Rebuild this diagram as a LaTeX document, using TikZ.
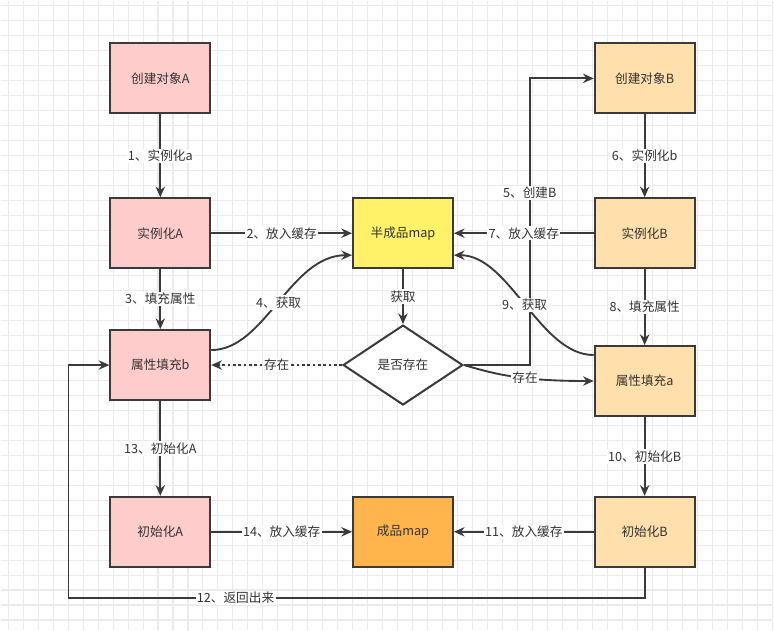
\documentclass[tikz,border=0pt]{standalone}
\usepackage{fontspec}
\setmainfont{Noto Sans CJK SC}
\usetikzlibrary{arrows.meta,shapes.geometric,calc}
\definecolor{gridc}{HTML}{EBEBEB}
\definecolor{linec}{HTML}{3A3A3A}
\definecolor{txtc}{HTML}{333333}
\definecolor{pinkf}{HTML}{FFCCCC}
\definecolor{peachf}{HTML}{FFDFAB}
\definecolor{yellowf}{HTML}{FFF168}
\definecolor{orangef}{HTML}{FFB54C}
\begin{document}
\begin{tikzpicture}[x=0.75pt,y=-0.75pt,
  font=\fontsize{9.5pt}{11pt}\selectfont, text=txtc,
  box/.style={draw=linec, line width=1.5pt, minimum width=75pt, minimum height=52.5pt, inner sep=0pt},
  boxa/.style={box, fill=pinkf},
  boxb/.style={box, fill=peachf},
  edge/.style={draw=linec, line width=1.4pt, -{Stealth[length=8pt,width=7pt]}},
  lbl/.style={fill=white, inner sep=1pt}]
\fill[white] (0,0) rectangle (774,630);
\foreach \i in {0,...,51} \draw[gridc, line width=0.8pt] (7.7+15*\i,0) -- (7.7+15*\i,630);
\foreach \j in {0,...,41} \draw[gridc, line width=0.8pt] (0,5.3+15*\j) -- (774,5.3+15*\j);
\useasboundingbox (0,0) rectangle (774,630);

% left column
\node[boxa] (cA) at (160,78) {创建对象A};
\node[boxa] (iA) at (160,233) {实例化A};
\node[boxa] (pb) at (160,365) {属性填充b};
\node[boxa] (niA) at (160,532) {初始化A};
% middle
\node[box, fill=yellowf] (half) at (403,233) {半成品map};
\node[box, fill=orangef] (full) at (403,532) {成品map};
\node[diamond, draw=linec, line width=1.5pt, fill=white, minimum width=90pt, minimum height=60pt, inner sep=0pt] (dia) at (403,365) {是否存在};
% right column
\node[boxb] (cB) at (645,78) {创建对象B};
\node[boxb] (iB) at (645,233) {实例化B};
\node[boxb] (pa) at (645,381) {属性填充a};
\node[boxb] (niB) at (645,532) {初始化B};

\coordinate (k5) at (530,365);
\coordinate (r1) at (645,598);
\coordinate (r2) at (68,598);

\draw[edge] (cA) -- node[lbl]{1、实例化a} (iA);
\draw[edge] (iA) -- node[lbl]{2、放入缓存} (half);
\draw[edge] (iA) -- node[lbl]{3、填充属性} (pb);
\draw[edge] ($(pb.east)+(0,-15)$) .. controls (265,350) and (290,255) .. node[lbl,pos=0.5]{4、获取} ($(half.west)+(0,22)$);
\draw[edge] (half) -- node[lbl]{获取} (dia);
\draw[edge, dash pattern=on 2pt off 2pt] (dia.west) -- node[lbl]{存在} (pb.east);
\draw[edge] (dia.east) -- (k5) |- node[lbl,pos=0.3]{5、创建B} (cB.west);
\draw[edge] (dia.east) .. controls (495,374) and (520,381) .. node[lbl,pos=0.6]{存在} (pa.west);
\draw[edge] (cB) -- node[lbl]{6、实例化b} (iB);
\draw[edge] (iB) -- node[lbl]{7、放入缓存} (half);
\draw[edge] (iB) -- node[lbl]{8、填充属性} (pa);
\draw[edge] ($(pa.west)+(0,-26)$) .. controls (540,355) and (510,255) .. node[lbl,pos=0.5]{9、获取} ($(half.east)+(0,22)$);
\draw[edge] (pa) -- node[lbl]{10、初始化B} (niB);
\draw[edge] (niB) -- node[lbl]{11、放入缓存} (full);
\draw[edge] (niB.south) -- (r1) -- node[lbl,pos=0.71]{12、返回出来} (r2) |- (pb.west);
\draw[edge] (pb) -- node[lbl]{13、初始化A} (niA);
\draw[edge] (niA) -- node[lbl]{14、放入缓存} (full);
\end{tikzpicture}
\end{document}
